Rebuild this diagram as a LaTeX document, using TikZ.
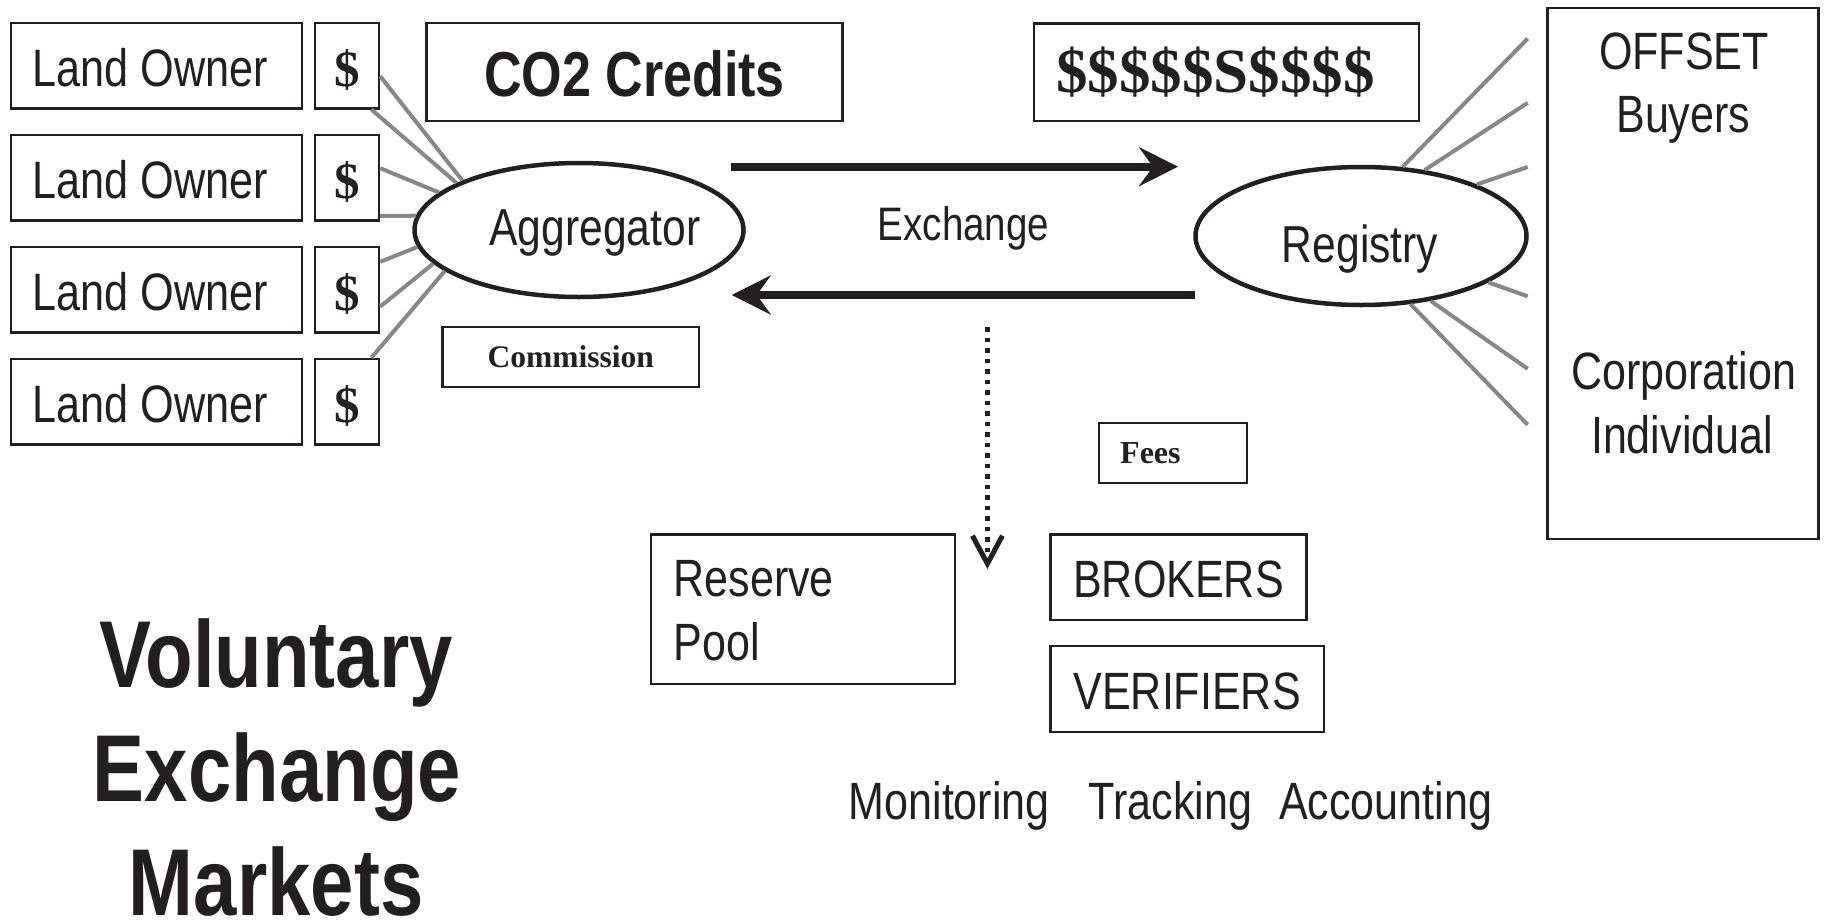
\documentclass[tikz,border=0pt]{standalone}
\usepackage{fontspec}
\setmainfont{Liberation Sans}[FakeStretch=0.82]
\newfontfamily\tnr{Liberation Serif}
\usetikzlibrary{arrows.meta,shapes.geometric}
\definecolor{ink}{HTML}{231F20}
\definecolor{spoke}{HTML}{878787}
\newcommand\fsz[1]{\fontsize{#1}{#1}\selectfont}
\begin{document}
\begin{tikzpicture}[x=1pt,y=-1pt,
  every node/.append style={inner sep=0pt, text=ink},
  box/.style={draw=ink, line width=2.4pt},
  oval/.style={ellipse, draw=ink, line width=4.5pt},
  spokeline/.style={draw=spoke, line width=4pt},
  flowarrow/.style={draw=ink, line width=8pt, -{Stealth[length=39pt,width=39pt,inset=14pt]}},
  dotarrow/.style={draw=ink, line width=4.8pt, dash pattern=on 4.8pt off 5.7pt, -{Straight Barb[length=28pt,width=30pt,line width=5pt]}},
  ownerbox/.style={box, minimum width=291.3pt, minimum height=85.6pt, text width=247pt, align=flush left, inner xsep=22pt, text height=41pt, text depth=0pt, font=\fsz{52.7}},
  dollarbox/.style={box, minimum width=64pt, minimum height=85.6pt, text height=41pt, text depth=0pt, font=\tnr\bfseries\fsz{51}},
  sanslabel/.style={font=\fsz{52.5}},
  titlefont/.style={font=\bfseries\fsz{95}, anchor=base},
]
\useasboundingbox (0,0) rectangle (1830,921);

% land owners and their dollar boxes
\node[ownerbox] (lo1) at (156.35,65.5) {Land Owner};
\node[ownerbox] (lo2) at (156.35,177.7) {Land Owner};
\node[ownerbox] (lo3) at (156.35,289.7) {Land Owner};
\node[ownerbox] (lo4) at (156.35,401.7) {Land Owner};
\node[dollarbox] (d1) at (347,65.5) {\$};
\node[dollarbox] (d2) at (347,177.7) {\$};
\node[dollarbox] (d3) at (347,289.7) {\$};
\node[dollarbox] (d4) at (347,401.7) {\$};

% top boxes
\node[box, minimum width=416pt, minimum height=98pt, text height=50pt, text depth=0pt, font=\bfseries\fsz{63.5}] (co2) at (634.5,71.7) {CO2 Credits};
\node[box, minimum width=385pt, minimum height=97.7pt, text width=341pt, align=flush left, inner xsep=22pt, text height=40.2pt, text depth=0pt, font=\tnr\bfseries\fsz{63}] (cash) at (1226.5,72.2) {\$\$\$\$\$S\$\$\$\$};

% ellipses
\node[oval, minimum width=329pt, minimum height=134pt] (agg) at (579,230) {};
\node[font=\fsz{52}, anchor=base] (aggtxt) at (595,245) {Aggregator};
\node[oval, minimum width=331pt, minimum height=138pt] (reg) at (1361,236) {};
\node[font=\fsz{52}, anchor=base] (regtxt) at (1360,262) {Registry};

\node[font=\fsz{47}, anchor=base] (exch) at (963.5,240) {Exchange};

% small serif boxes
\node[box, minimum width=256.5pt, minimum height=60pt, text height=21.2pt, text depth=0pt, font=\tnr\bfseries\fsz{31.5}] (comm) at (570.75,356.7) {Commission};
\node[box, minimum width=148pt, minimum height=60pt, text width=105.2pt, align=flush left, inner xsep=21.4pt, text height=21.6pt, text depth=0pt, font=\tnr\bfseries\fsz{32}] (fees) at (1172.8,452.7) {Fees};

% buyers box
\node[box, minimum width=271pt, minimum height=531pt] (buyers) at (1683,273.6) {};
\node[sanslabel, anchor=base] (by1) at (1684,69.6) {OFFSET};
\node[sanslabel, anchor=base] (by2) at (1683.3,132) {Buyers};
\node[sanslabel, anchor=base] (by3) at (1683.8,389) {Corporation};
\node[sanslabel, anchor=base] (by4) at (1682,453) {Individual};

% lower boxes
\node[box, minimum width=303.7pt, minimum height=149.3pt] (reserve) at (802.85,609.15) {};
\node[sanslabel, anchor=base west] (res1) at (673.4,596) {Reserve};
\node[sanslabel, anchor=base west] (res2) at (673.4,660.6) {Pool};
\node[box, sanslabel, minimum width=256pt, minimum height=85.7pt, text height=40.5pt, text depth=0pt] (brokers) at (1178.5,577.35) {BROKERS};
\node[box, sanslabel, minimum width=273.2pt, minimum height=86pt, text height=40.5pt, text depth=0pt] (verifiers) at (1187.1,689) {VERIFIERS};
\node[sanslabel, anchor=base west] (mta) at (848.5,819.4) {Monitoring\hspace{39pt}Tracking\hspace{27pt}Accounting};

% title
\node[titlefont] (t1) at (276,687.3) {Voluntary};
\node[titlefont] (t2) at (277,801.7) {Exchange};
\node[titlefont] (t3) at (276.2,915) {Markets};

% arrows
\coordinate (ra1) at (731,166.7);
\coordinate (ra2) at (1178,166.7);
\draw[flowarrow] (ra1) -- (ra2);
\coordinate (la1) at (1195,295);
\coordinate (la2) at (731.7,295);
\draw[flowarrow] (la1) -- (la2);
\coordinate (da1) at (987.4,327);
\coordinate (da2) at (987.4,569);
\draw[dotarrow] (da1) -- (da2);

% spokes to aggregator
\draw[spokeline] (d1.-18) -- (agg.157);
\draw[spokeline] (d1.-61) -- (agg.159);
\draw[spokeline] (d2.16) -- (agg.165);
\draw[spokeline] (d2.-49) -- (agg.175);
\draw[spokeline] (d3.40) -- (agg.186);
\draw[spokeline] (d3.-27) -- (agg.193);
\draw[spokeline] (d4.61) -- (agg.197);

% spokes from registry
\coordinate (b1) at (1527.7,38.5);
\coordinate (b2) at (1527.7,102.8);
\coordinate (b3) at (1527.7,167);
\coordinate (b4) at (1527.7,296.3);
\coordinate (b5) at (1527.7,368.8);
\coordinate (b6) at (1527.7,424.8);
\draw[spokeline] (reg.59) -- (b1);
\draw[spokeline] (reg.46) -- (b2);
\draw[spokeline] (reg.24) -- (b3);
\draw[spokeline] (reg.-20) -- (b4);
\draw[spokeline] (reg.-43) -- (b5);
\draw[spokeline] (reg.-54) -- (b6);
\end{tikzpicture}
\end{document}
